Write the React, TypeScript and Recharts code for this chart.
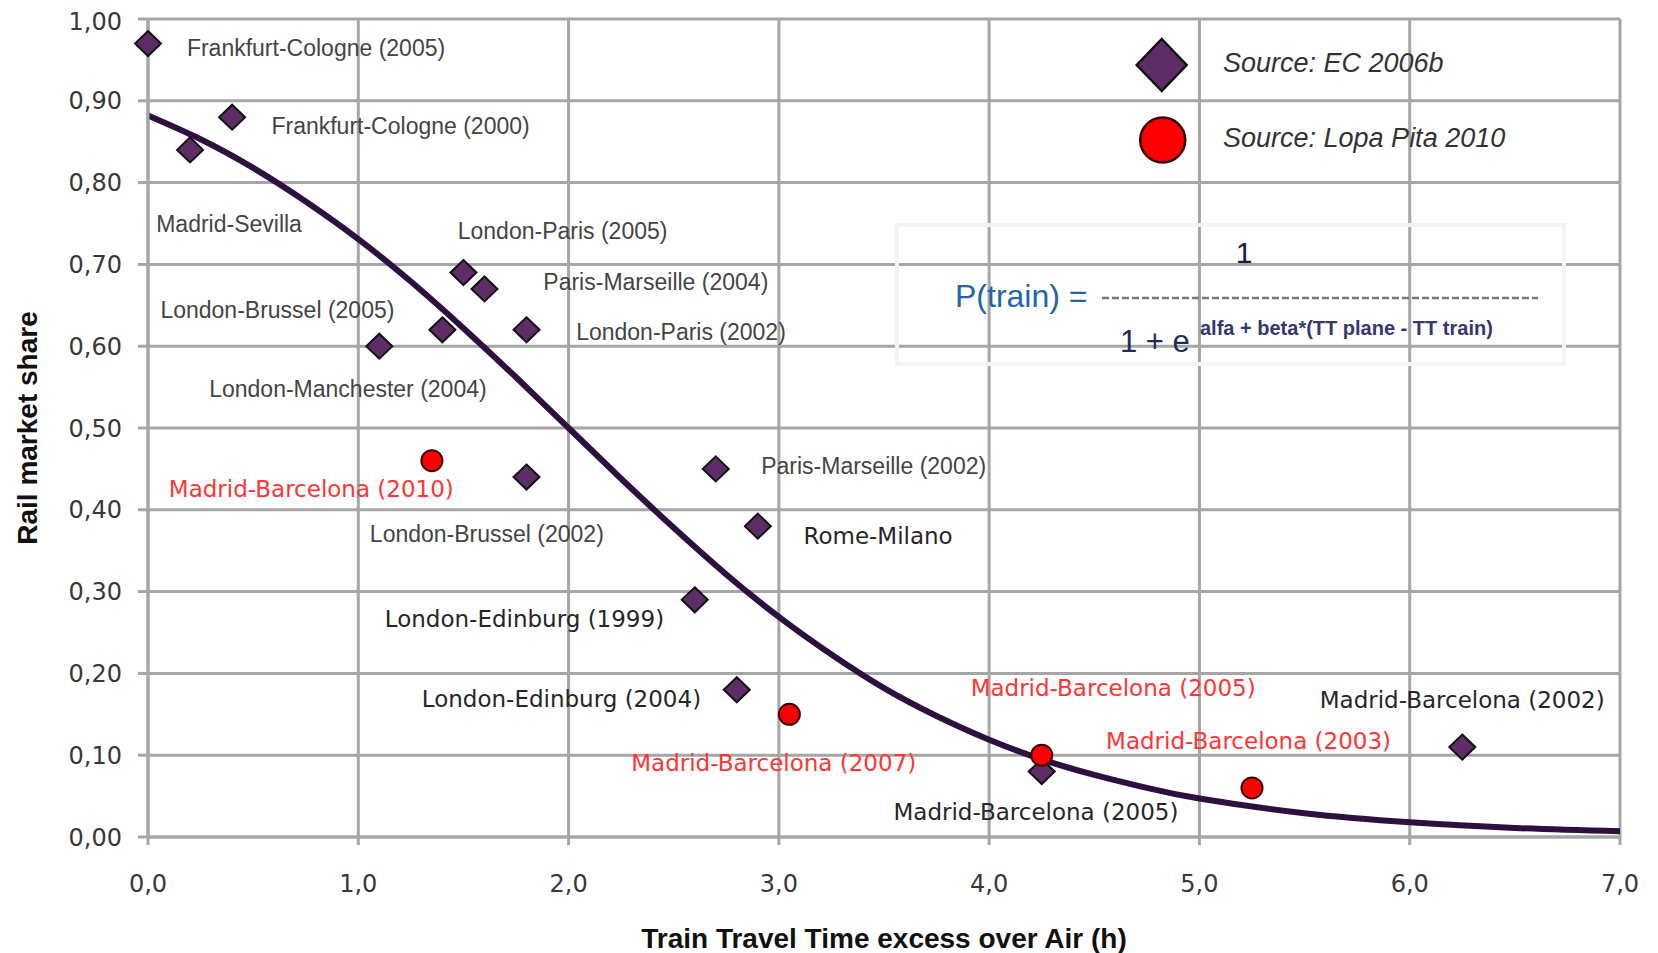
import React from 'react';
import { ComposedChart, Line, Scatter, XAxis, YAxis, CartesianGrid, Label } from 'recharts';

// ---- axes ----
const xTicks = [0, 1, 2, 3, 4, 5, 6, 7];
const yTicks = [0, 0.1, 0.2, 0.3, 0.4, 0.5, 0.6, 0.7, 0.8, 0.9, 1.0];

// ---- series: Source EC 2006b (diamonds) ----
const ecX = [0.0, 0.4, 0.2, 1.5, 1.6, 1.4, 1.8, 1.1, 1.8, 2.7, 2.9, 2.6, 2.8, 4.25, 6.25];
const ecY = [0.97, 0.88, 0.84, 0.69, 0.67, 0.62, 0.62, 0.60, 0.44, 0.45, 0.38, 0.29, 0.18, 0.08, 0.11];

// ---- series: Source Lopa Pita 2010 (circles) ----
const lpX = [1.35, 3.05, 4.25, 5.25];
const lpY = [0.46, 0.15, 0.10, 0.06];

// ---- fitted logistic curve ----
const curveX = [0, 0.25, 0.5, 0.75, 1.0, 1.25, 1.5, 1.75, 2.0, 2.25, 2.5, 2.75, 3.0, 3.25, 3.5, 3.75, 4.0, 4.25, 4.5, 4.75, 5.0, 5.5, 6.0, 6.5, 7.0];
const curveY = [0.882, 0.853, 0.818, 0.777, 0.731, 0.679, 0.622, 0.562, 0.5, 0.438, 0.378, 0.321, 0.269, 0.223, 0.182, 0.148, 0.119, 0.095, 0.076, 0.06, 0.047, 0.029, 0.018, 0.011, 0.007];

// ---- point labels (anchor in data units) ----
const labelsGrey = [
  { x: 0.185, y: 0.965, text: 'Frankfurt-Cologne (2005)' },
  { x: 0.587, y: 0.869, text: 'Frankfurt-Cologne (2000)' },
  { x: 0.039, y: 0.750, text: 'Madrid-Sevilla' },
  { x: 1.473, y: 0.741, text: 'London-Paris (2005)' },
  { x: 1.880, y: 0.678, text: 'Paris-Marseille (2004)' },
  { x: 0.059, y: 0.644, text: 'London-Brussel (2005)' },
  { x: 2.036, y: 0.617, text: 'London-Paris (2002)' },
  { x: 0.291, y: 0.548, text: 'London-Manchester (2004)' },
  { x: 1.055, y: 0.371, text: 'London-Brussel (2002)' },
  { x: 2.916, y: 0.453, text: 'Paris-Marseille (2002)' },
];
const labelsDark = [
  { x: 3.117, y: 0.368, text: 'Rome-Milano' },
  { x: 1.126, y: 0.267, text: 'London-Edinburg (1999)' },
  { x: 1.302, y: 0.169, text: 'London-Edinburg (2004)' },
  { x: 5.572, y: 0.167, text: 'Madrid-Barcelona (2002)' },
  { x: 3.545, y: 0.031, text: 'Madrid-Barcelona (2005)' },
];
const labelsRed = [
  { x: 0.099, y: 0.425, text: 'Madrid-Barcelona (2010)' },
  { x: 3.912, y: 0.182, text: 'Madrid-Barcelona (2005)' },
  { x: 4.556, y: 0.117, text: 'Madrid-Barcelona (2003)' },
  { x: 2.298, y: 0.090, text: 'Madrid-Barcelona (2007)' },
];

const legendLabels = ['Source: EC 2006b', 'Source: Lopa Pita 2010'];
const formulaParts = { lhs: 'P(train) =', num: '1', den: '1 + e', exp: 'alfa + beta*(TT plane - TT train)' };

const ecData = ecX.map((x, i) => ({ x, y: ecY[i] }));
const lpData = lpX.map((x, i) => ({ x, y: lpY[i] }));
const curveData = curveX.map((x, i) => ({ x, y: curveY[i] }));

const W = 1642;
const H = 945;
const DIAMOND_FILL = '#5e2d68';
const GRID = '#a6a6a6';

const Diamond = (props: any) => {
  const { cx, cy } = props;
  if (cx == null || cy == null) return null;
  const w = 13, h = 12.5;
  return (
    <polygon
      points={`${cx},${cy - h} ${cx + w},${cy} ${cx},${cy + h} ${cx - w},${cy}`}
      fill={DIAMOND_FILL}
      stroke="#111"
      strokeWidth={2}
    />
  );
};

const RedDot = (props: any) => {
  const { cx, cy } = props;
  if (cx == null || cy == null) return null;
  return <circle cx={cx} cy={cy} r={10.5} fill="#ff0000" stroke="#3a0000" strokeWidth={2} />;
};

const makeText = (fill: string, family: string, size: number) => (props: any) => {
  const { cx, cy, payload } = props;
  if (cx == null || cy == null) return null;
  return (
    <text x={cx} y={cy} fill={fill} fontFamily={family} fontSize={size} dominantBaseline="central">
      {payload.text}
    </text>
  );
};

const GreyText = makeText('#444444', '"Liberation Sans", Arial, sans-serif', 23);
const DarkText = makeText('#262626', '"DejaVu Sans", Verdana, sans-serif', 23);
const RedText = makeText('#ff3535', '"DejaVu Sans", Verdana, sans-serif', 23);

const fmtY = (v: number) => v.toFixed(2).replace('.', ',');
const fmtX = (v: number) => v.toFixed(1).replace('.', ',');

const tickStyle = { fontFamily: '"DejaVu Sans", Verdana, sans-serif', fontSize: 24, fill: '#383838' };

const YTitle = (props: any) => {
  const vb = props.viewBox || {};
  const x = vb.x - 21;
  const y = vb.y + vb.height / 2;
  return (
    <text
      x={x}
      y={y}
      transform={`rotate(-90, ${x}, ${y})`}
      textAnchor="middle"
      dominantBaseline="central"
      fontFamily='"Liberation Sans", Arial, sans-serif'
      fontWeight="bold"
      fontSize={28}
      fill="#111"
    >
      Rail market share
    </text>
  );
};

const XTitle = (props: any) => {
  const vb = props.viewBox || {};
  const x = vb.x + vb.width / 2;
  const y = vb.y + 101;
  return (
    <text
      x={x}
      y={y}
      textAnchor="middle"
      dominantBaseline="central"
      fontFamily='"Liberation Sans", Arial, sans-serif'
      fontWeight="bold"
      fontSize={28}
      fill="#111"
    >
      Train Travel Time excess over Air (h)
    </text>
  );
};

export default function App() {
  return (
    <div style={{ position: 'relative', width: W, height: H, fontFamily: '"Liberation Sans", Arial, sans-serif' }}>
      <ComposedChart width={W} height={H} margin={{ top: 11, right: 30, left: 40, bottom: 0 }}>
        <CartesianGrid stroke={GRID} strokeWidth={3} />
        <XAxis
          type="number"
          dataKey="x"
          domain={[0, 7]}
          ticks={xTicks}
          tickFormatter={fmtX}
          height={116}
          tickSize={8}
          tickMargin={30}
          tick={tickStyle}
          stroke={GRID}
          axisLine={{ stroke: GRID, strokeWidth: 3 }}
          tickLine={{ stroke: GRID, strokeWidth: 3 }}
        >
          <Label content={<XTitle />} />
        </XAxis>
        <YAxis
          type="number"
          dataKey="y"
          domain={[0, 1]}
          ticks={yTicks}
          tickFormatter={fmtY}
          width={100}
          tickSize={10}
          tickMargin={16}
          tick={tickStyle}
          stroke={GRID}
          axisLine={{ stroke: GRID, strokeWidth: 3 }}
          tickLine={{ stroke: GRID, strokeWidth: 3 }}
        >
          <Label content={<YTitle />} />
        </YAxis>
        <Scatter data={labelsGrey} dataKey="y" shape={GreyText} isAnimationActive={false} />
        <Scatter data={labelsDark} dataKey="y" shape={DarkText} isAnimationActive={false} />
        <Scatter data={labelsRed} dataKey="y" shape={RedText} isAnimationActive={false} />
        <Line
          data={curveData}
          dataKey="y"
          type="natural"
          stroke="#2d1040"
          strokeWidth={6}
          dot={false}
          activeDot={false}
          isAnimationActive={false}
        />
        <Scatter data={ecData} dataKey="y" shape={Diamond} isAnimationActive={false} />
        <Scatter data={lpData} dataKey="y" shape={RedDot} isAnimationActive={false} />
      </ComposedChart>

      <svg
        width={W}
        height={H}
        style={{ position: 'absolute', left: 0, top: 0, pointerEvents: 'none' }}
      >
        {/* legend */}
        <polygon
          points="1153.7,31 1178.7,57 1153.7,83 1128.7,57"
          fill={DIAMOND_FILL}
          stroke="#111"
          strokeWidth={2.5}
        />
        <circle cx={1154.7} cy={132} r={22.5} fill="#ff0000" stroke="#300" strokeWidth={2.5} />
        <text x={1215} y={55} dominantBaseline="central" fontFamily='"Liberation Sans", Arial, sans-serif' fontStyle="italic" fontSize={27} fill="#333">
          {legendLabels[0]}
        </text>
        <text x={1215} y={130} dominantBaseline="central" fontFamily='"Liberation Sans", Arial, sans-serif' fontStyle="italic" fontSize={27} fill="#333">
          {legendLabels[1]}
        </text>

        {/* formula box */}
        <rect x={889} y={217} width={667} height={139} fill="none" stroke="#f3f3f3" strokeWidth={4} />
        <text x={1236} y={255} textAnchor="middle" fontFamily='"Liberation Sans", Arial, sans-serif' fontSize={30} fill="#1f1a48">
          {formulaParts.num}
        </text>
        <text x={947} y={299} fontFamily='"Liberation Sans", Arial, sans-serif' fontSize={32} fill="#2166a8">
          {formulaParts.lhs}
        </text>
        <line x1={1094} y1={290} x2={1530} y2={290} stroke="#7a7a7a" strokeWidth={2.5} strokeDasharray="7 3" />
        <text x={1112} y={344} fontFamily='"Liberation Sans", Arial, sans-serif' fontSize={31} fill="#1b2d5c">
          {formulaParts.den}
        </text>
        <text x={1192} y={327} fontFamily='"Liberation Sans", Arial, sans-serif' fontWeight="bold" fontSize={20} fill="#34386e">
          {formulaParts.exp}
        </text>
      </svg>
    </div>
  );
}
